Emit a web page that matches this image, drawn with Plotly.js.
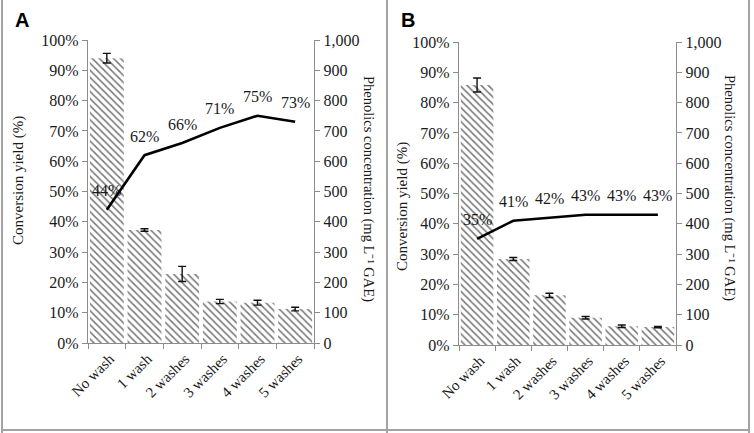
<!DOCTYPE html>
<html>
<head>
<meta charset="utf-8">
<script src="https://cdn.plot.ly/plotly-3.0.1.min.js"></script>
<style>
html,body{margin:0;padding:0;background:#fff;}
#chart{width:754px;height:433px;}
</style>
</head>
<body>
<div id="chart"></div>
<script>
// ---- data ----
var categories = ["No wash", "1 wash", "2 washes", "3 washes", "4 washes", "5 washes"];

// Panel A
var phenolicsA = [940, 373, 228, 137, 133, 112];      // mg L-1 GAE (bars, right axis)
var phenolicsErrA = [16, 4, 25, 7, 8, 6];
var yieldA = [0.44, 0.62, 0.66, 0.71, 0.75, 0.73];     // conversion yield (line, left axis)

// Panel B
var phenolicsB = [858, 284, 164, 90, 62, 59];
var phenolicsErrB = [23, 5, 7, 4, 4, 2];
var yieldB = [0.35, 0.41, 0.42, 0.43, 0.43, 0.43];

var leftTitle = "Conversion yield (%)";
var rightTitle = "Phenolics concentration (mg L\u207B\u00B9 GAE)";
var panelLabels = ["A", "B"];

// ---- styling ----
var serif = "Liberation Serif, Times New Roman, serif";
var txtColor = "#1a1a1a";
var axColor = "#8c8c8c";
var W = 754, H = 433;

function barTrace(vals, errs, xa, ya) {
  return {
    type: "bar", x: categories, y: vals, xaxis: xa, yaxis: ya,
    marker: {
      color: "white",
      line: {width: 0},
      pattern: {shape: "\\", fgcolor: "#7a7a7a", bgcolor: "white", size: 5, solidity: 0.32}
    },
    error_y: {type: "data", array: errs, visible: true, color: "#111", thickness: 1.4, width: 4},
    hoverinfo: "skip"
  };
}
function lineTrace(vals, xa, ya) {
  return {
    type: "scatter", mode: "lines", x: categories, y: vals, xaxis: xa, yaxis: ya,
    line: {color: "#000", width: 2.6}, cliponaxis: false, hoverinfo: "skip"
  };
}

var tickFont = {family: serif, size: 16, color: txtColor};

function xAx(domain, anchor) {
  return {
    domain: domain, anchor: anchor, type: "category", range: [-0.5, 5.5],
    showline: true, linecolor: axColor, linewidth: 1.2,
    ticks: "outside", tickson: "boundaries", ticklen: 5, tickcolor: axColor,
    tickangle: -45, tickfont: {family: serif, size: 15, color: txtColor}, ticklabelshift: 3,
    showgrid: false, zeroline: false, fixedrange: true
  };
}
function yRight(domain, anchor) {
  return {
    domain: domain, anchor: anchor, side: "right", range: [0, 1000], dtick: 100,
    tickformat: ",d", showline: true, linecolor: axColor, linewidth: 1.2,
    ticks: "outside", ticklen: 5, tickcolor: axColor, tickfont: tickFont,
    showgrid: false, zeroline: false, fixedrange: true
  };
}
function yLeft(over, anchor) {
  return {
    overlaying: over, anchor: anchor, side: "left", range: [0, 1], dtick: 0.1,
    tickformat: ".0%", showline: true, linecolor: axColor, linewidth: 1.2,
    ticks: "outside", ticklen: 5, tickcolor: axColor, tickfont: tickFont,
    showgrid: false, zeroline: false, fixedrange: true
  };
}

var data = [
  barTrace(phenolicsA, phenolicsErrA, "x", "y"),
  lineTrace(yieldA, "x", "y2"),
  barTrace(phenolicsB, phenolicsErrB, "x2", "y3"),
  lineTrace(yieldB, "x2", "y4")
];

var annotations = [];
function addLabels(vals, xa, ya) {
  vals.forEach(function (v, i) {
    annotations.push({
      x: categories[i], y: v, xref: xa, yref: ya, text: Math.round(v * 100) + "%",
      showarrow: false, yshift: 19, font: {family: serif, size: 16, color: txtColor}
    });
  });
}
addLabels(yieldA, "x", "y2");
addLabels(yieldB, "x2", "y4");

function addTitle(text, px, py, angle, size) {
  annotations.push({
    x: px / W, y: 1 - py / H, xref: "paper", yref: "paper", text: text,
    showarrow: false, textangle: angle, xanchor: "center", yanchor: "middle",
    font: {family: serif, size: size, color: txtColor}
  });
}
addTitle(leftTitle, 18, 181, -90, 15);
addTitle(rightTitle, 368, 189, 90, 14.5);
addTitle(leftTitle, 402, 207, -90, 15);
addTitle(rightTitle, 730, 188, 90, 14.5);

annotations.push({x: 13 / W, y: 1 - 20 / H, xref: "paper", yref: "paper", text: "<b>" + panelLabels[0] + "</b>",
  showarrow: false, xanchor: "left", yanchor: "middle", font: {family: "Liberation Sans, Arial, sans-serif", size: 20, color: "#000"}});
annotations.push({x: 399 / W, y: 1 - 20 / H, xref: "paper", yref: "paper", text: "<b>" + panelLabels[1] + "</b>",
  showarrow: false, xanchor: "left", yanchor: "middle", font: {family: "Liberation Sans, Arial, sans-serif", size: 20, color: "#000"}});

var borderColor = "#a3a3a3";
function vline(px) { return {type: "line", xref: "paper", yref: "paper", x0: px / W, x1: px / W, y0: 0, y1: 1, line: {color: borderColor, width: 2}}; }
var shapes = [
  vline(2), vline(387), vline(749),
  {type: "line", xref: "paper", yref: "paper", x0: 2 / W, x1: 749 / W, y0: 1 - 430 / H, y1: 1 - 430 / H, line: {color: borderColor, width: 2}}
];

var layout = {
  width: W, height: H, margin: {l: 0, r: 0, t: 0, b: 0},
  paper_bgcolor: "white", plot_bgcolor: "rgba(0,0,0,0)",
  showlegend: false, bargap: 0.1,
  xaxis: xAx([88 / W, 314 / W], "y"),
  yaxis: yRight([90 / H, 393 / H], "x"),
  yaxis2: yLeft("y", "x"),
  xaxis2: xAx([459 / W, 676 / W], "y3"),
  yaxis3: yRight([88 / H, 391 / H], "x2"),
  yaxis4: yLeft("y3", "x2"),
  annotations: annotations,
  shapes: shapes
};

Plotly.newPlot("chart", data, layout, {staticPlot: true, displayModeBar: false});
</script>
</body>
</html>
